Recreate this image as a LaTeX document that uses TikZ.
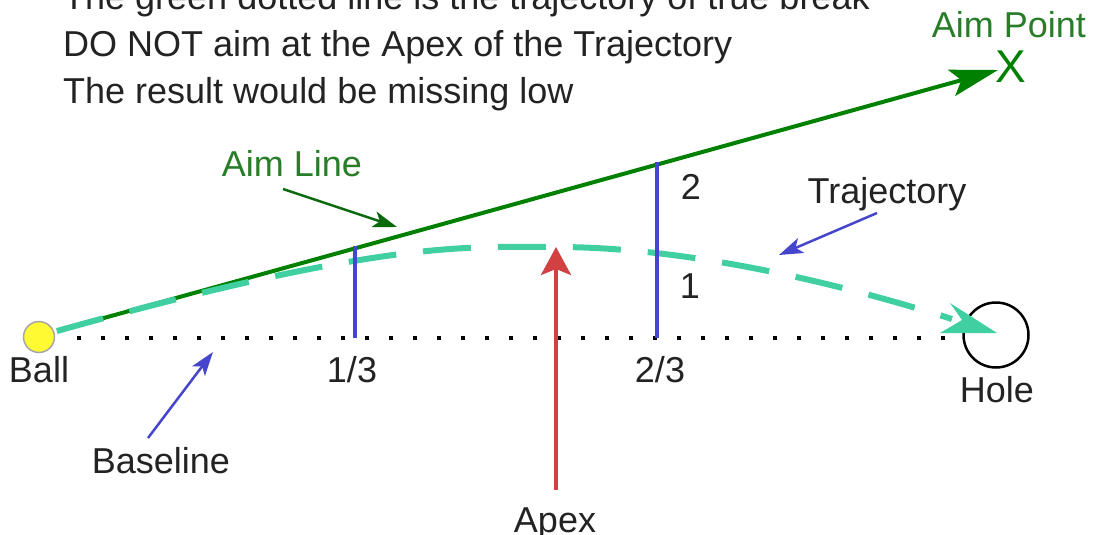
\documentclass[tikz,border=0pt]{standalone}
\usepackage{fontspec}
\setmainfont{Liberation Sans}
\usetikzlibrary{arrows.meta,calc}
\definecolor{aimgreen}{RGB}{0,128,0}
\definecolor{lblgreen}{RGB}{40,125,40}
\definecolor{darkgreen}{RGB}{10,105,10}
\definecolor{trajcol}{RGB}{64,207,160}
\definecolor{myblue}{RGB}{70,70,205}
\definecolor{apexred}{RGB}{210,65,65}
\definecolor{txtgray}{RGB}{35,35,35}
\definecolor{ballyellow}{RGB}{255,250,50}
\begin{document}
\begin{tikzpicture}[x=1pt,y=-1pt,
  font=\fontsize{36}{43}\selectfont,
  txt/.style={inner sep=0pt, anchor=base, text=txtgray},
  gtxt/.style={inner sep=0pt, anchor=base, text=lblgreen},
  thinarrow/.style={line width=2.5pt, -{Stealth[length=24pt, width=16pt, inset=6pt]}},
  tick/.style={line width=4pt, myblue},
]
\useasboundingbox (0,0) rectangle (1093,535);

% ball and hole
\node[circle, fill=ballyellow, draw=gray!70, line width=1.5pt, minimum size=31pt, inner sep=0pt] (ball) at (39,337) {};
\node[circle, draw=black, line width=2.5pt, minimum size=65pt, inner sep=0pt] (hole) at (996,335) {};

% coordinates
\coordinate (start) at (57,331);
\coordinate (aimtip) at (998,70);
\coordinate (apex) at (556,247);
\coordinate (holec) at (997,333);
\coordinate (trajend) at (952,319);
\coordinate (bl1) at (77,338);
\coordinate (bl2) at (946,338);
\coordinate (b1) at (355,338);
\coordinate (t1) at (355,246);
\coordinate (b2) at (657,338);
\coordinate (t2) at (657,162);

% baseline dots
\draw[line width=4pt, dash pattern=on 4pt off 20pt] (bl1) -- (bl2);

% aim line
\draw[line width=4pt, aimgreen, -{Stealth[length=48pt, width=27pt, inset=10pt]}] (start) -- (aimtip);

% trajectory
\draw[line width=6pt, trajcol, dash pattern=on 48pt off 27pt]
  (start) .. controls (388,238.5) and (470,247) .. (apex)
          .. controls (700,247) and (860,290) .. (trajend);
\fill[trajcol] (holec) -- ++(-47,-30) -- ++(12,17) -- ++(-22,13) -- cycle;

% 1/3 and 2/3 ticks
\draw[tick] (b1) -- (t1);
\draw[tick] (b2) -- (t2);

% apex arrow
\coordinate (apexfoot) at (556,490);
\draw[line width=4pt, apexred, -{Stealth[length=28pt, width=30pt, inset=6pt]}] (apexfoot) -- (apex);

% texts
\node[txt, anchor=base west] (l1) at (63,10) {The green dotted line is the trajectory of true break};
\node[txt, anchor=base west] (l2) at (63,57) {DO NOT aim at the Apex of the Trajectory};
\node[txt, anchor=base west] (l3) at (63,103) {The result would be missing low};

\node[gtxt] (aimpt) at (1009,38) {Aim Point};
\node[inner sep=0pt, anchor=base, text=aimgreen, font=\fontsize{46}{50}\selectfont] (xmark) at (1011,82) {X};

\node[gtxt] (aimlbl) at (292,176) {Aim Line};
\node[txt] (trajlbl) at (887,203) {Trajectory};
\node[txt] (two) at (691,199) {2};
\node[txt] (one) at (690,298) {1};
\node[txt] (third1) at (352,382) {1/3};
\node[txt] (third2) at (660,382) {2/3};
\node[txt] (balllbl) at (39,382) {Ball};
\node[txt] (holelbl) at (997,402) {Hole};
\node[txt] (baselbl) at (161,473) {Baseline};
\node[txt] (apexlbl) at (555,532) {Apex};

% label arrows
\coordinate (aimA) at (283,189);
\coordinate (aimB) at (397,227);
\draw[thinarrow, darkgreen] (aimA) -- (aimB);
\coordinate (trA) at (877,213);
\coordinate (trB) at (779,255);
\draw[thinarrow, myblue] (trA) -- (trB);
\coordinate (baA) at (148,438);
\coordinate (baB) at (213,352);
\draw[thinarrow, myblue] (baA) -- (baB);
\end{tikzpicture}
\end{document}
